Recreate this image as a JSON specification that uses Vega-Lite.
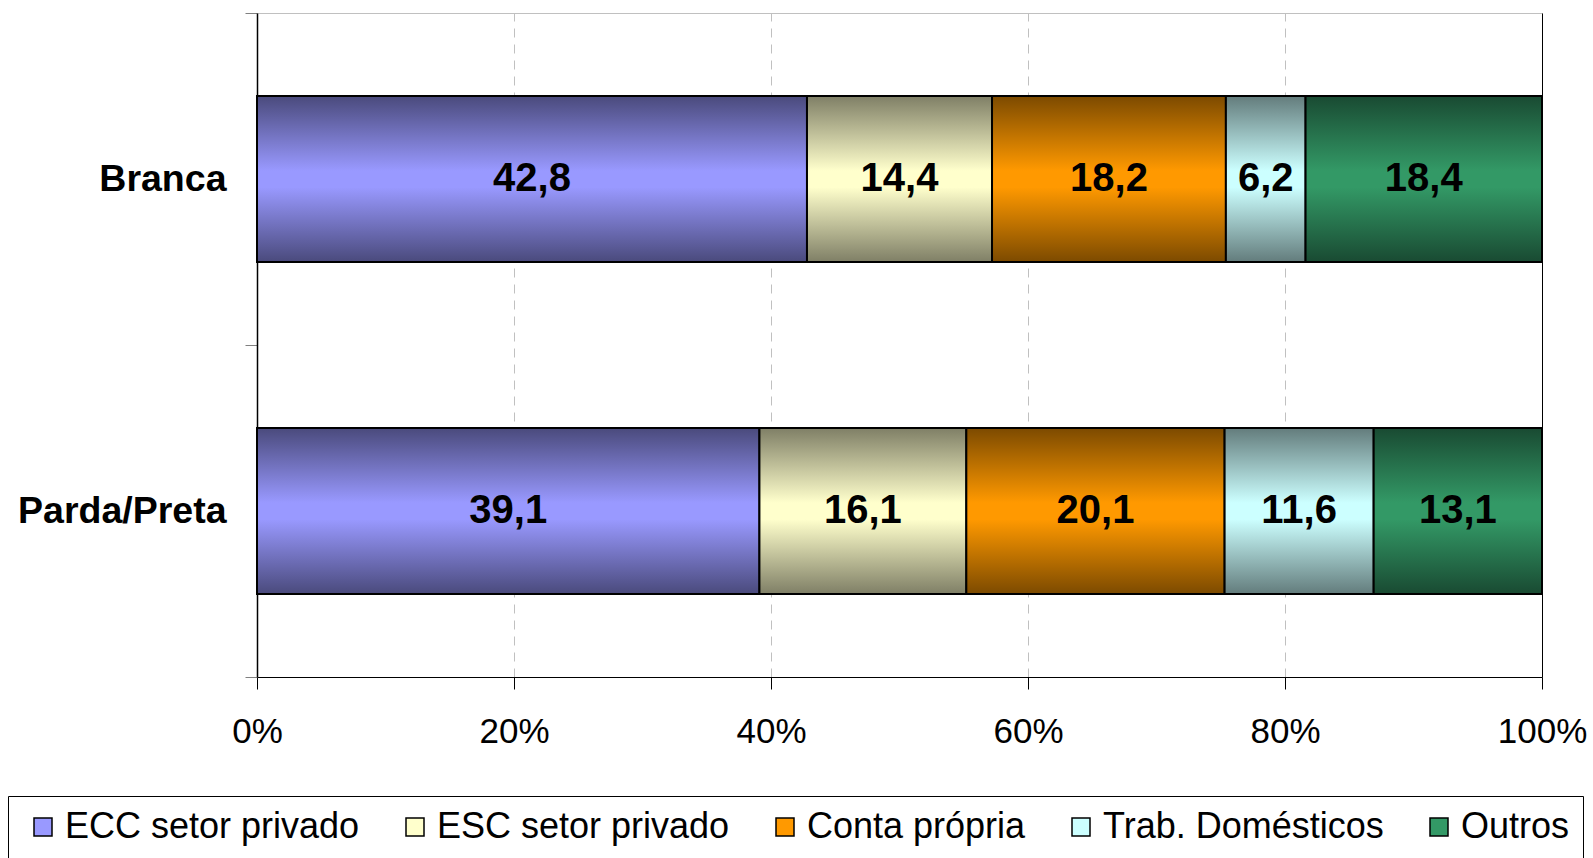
{
  "$schema": "https://vega.github.io/schema/vega-lite/v6.json",
  "width": 1285,
  "height": 664,
  "autosize": {"type": "none"},
  "padding": {"left": 257, "top": 13, "right": 51, "bottom": 181},
  "background": "white",
  "config": {
    "view": {"stroke": null},
    "font": "Liberation Sans",
    "locale": {"number": {"decimal": ",", "thousands": ".", "grouping": [3], "currency": ["R$", ""]}}
  },
  "data": {
    "values": [
      {"raca": "Branca", "cat": "ECC setor privado", "v": 42.8, "ord": 1},
      {"raca": "Branca", "cat": "ESC setor privado", "v": 14.4, "ord": 2},
      {"raca": "Branca", "cat": "Conta própria", "v": 18.2, "ord": 3},
      {"raca": "Branca", "cat": "Trab. Domésticos", "v": 6.2, "ord": 4},
      {"raca": "Branca", "cat": "Outros", "v": 18.4, "ord": 5},
      {"raca": "Parda/Preta", "cat": "ECC setor privado", "v": 39.1, "ord": 1},
      {"raca": "Parda/Preta", "cat": "ESC setor privado", "v": 16.1, "ord": 2},
      {"raca": "Parda/Preta", "cat": "Conta própria", "v": 20.1, "ord": 3},
      {"raca": "Parda/Preta", "cat": "Trab. Domésticos", "v": 11.6, "ord": 4},
      {"raca": "Parda/Preta", "cat": "Outros", "v": 13.1, "ord": 5}
    ]
  },
  "layer": [
    {
      "mark": {"type": "bar", "height": {"band": 0.5}, "stroke": "#000", "strokeWidth": 2},
      "encoding": {
        "x": {
          "field": "v", "type": "quantitative", "stack": "normalize",
          "axis": {
            "orient": "bottom", "values": [0, 0.2, 0.4, 0.6, 0.8, 1], "format": ".0%",
            "labelFontSize": 35, "labelColor": "#000", "tickSize": 12, "tickColor": "#000",
            "domainColor": "#000", "grid": true, "gridDash": [9, 7], "gridColor": "#c0c0c0",
            "labelPadding": 25, "labelFlush": false, "labelOverlap": false, "labelBound": false,
            "title": null
          }
        },
        "y": {
          "field": "raca", "type": "nominal", "scale": {"paddingInner": 0, "paddingOuter": 0},
          "axis": {
            "orient": "left", "tickBand": "extent", "tickSize": 12, "tickColor": "#808080",
            "domainColor": "#000", "domainWidth": 1.5, "labelFontSize": 37.5, "labelFontWeight": "bold",
            "labelColor": "#000", "labelPadding": 19, "title": null, "labelLimit": 400, "grid": false
          }
        },
        "color": {
          "field": "cat", "type": "nominal",
          "scale": {
            "domain": ["ECC setor privado", "ESC setor privado", "Conta própria", "Trab. Domésticos", "Outros"],
            "range": ["#9999ff", "#ffffcc", "#ff9900", "#ccffff", "#339966"]
          },
          "legend": {
            "orient": "none", "legendX": -249, "legendY": 783, "direction": "horizontal", "columns": 5,
            "title": null, "padding": 13, "fillColor": "#fff", "strokeColor": "#000",
            "labelFontSize": 36, "labelColor": "#000", "labelLimit": 600, "symbolType": "square",
            "symbolSize": 324, "symbolStrokeColor": "#000", "symbolStrokeWidth": 1.5,
            "symbolOffset": 4, "labelOffset": 4, "columnPadding": 33, "symbolOpacity": 1
          }
        },
        "order": {"field": "ord", "type": "quantitative"}
      }
    },
    {
      "mark": {"type": "bar", "height": {"band": 0.5}, "stroke": "#000", "strokeWidth": 2},
      "encoding": {
        "x": {"field": "v", "type": "quantitative", "stack": "normalize", "axis": null},
        "y": {"field": "raca", "type": "nominal", "axis": null},
        "detail": {"field": "cat"},
        "order": {"field": "ord", "type": "quantitative"},
        "fill": {
          "condition": [
            {"test": "datum.cat === 'ECC setor privado'", "value": {"gradient": "linear", "x1": 0, "y1": 0, "x2": 0, "y2": 1, "stops": [{"offset": 0, "color": "#4a4a7c"}, {"offset": 0.45, "color": "#9999ff"}, {"offset": 0.55, "color": "#9999ff"}, {"offset": 1, "color": "#4a4a7c"}]}},
            {"test": "datum.cat === 'ESC setor privado'", "value": {"gradient": "linear", "x1": 0, "y1": 0, "x2": 0, "y2": 1, "stops": [{"offset": 0, "color": "#7f7f66"}, {"offset": 0.45, "color": "#ffffcc"}, {"offset": 0.55, "color": "#ffffcc"}, {"offset": 1, "color": "#7f7f66"}]}},
            {"test": "datum.cat === 'Conta própria'", "value": {"gradient": "linear", "x1": 0, "y1": 0, "x2": 0, "y2": 1, "stops": [{"offset": 0, "color": "#7c4a00"}, {"offset": 0.45, "color": "#ff9900"}, {"offset": 0.55, "color": "#ff9900"}, {"offset": 1, "color": "#7c4a00"}]}},
            {"test": "datum.cat === 'Trab. Domésticos'", "value": {"gradient": "linear", "x1": 0, "y1": 0, "x2": 0, "y2": 1, "stops": [{"offset": 0, "color": "#637c7c"}, {"offset": 0.45, "color": "#ccffff"}, {"offset": 0.55, "color": "#ccffff"}, {"offset": 1, "color": "#637c7c"}]}}
          ],
          "value": {"gradient": "linear", "x1": 0, "y1": 0, "x2": 0, "y2": 1, "stops": [{"offset": 0, "color": "#194a32"}, {"offset": 0.45, "color": "#339966"}, {"offset": 0.55, "color": "#339966"}, {"offset": 1, "color": "#194a32"}]}
        }
      }
    },
    {
      "mark": {"type": "text", "fontSize": 40, "fontWeight": "bold", "color": "#000", "baseline": "middle", "align": "center"},
      "encoding": {
        "x": {
          "field": "v", "type": "quantitative", "stack": "normalize", "bandPosition": 0.5,
          "axis": {"orient": "top", "domainColor": "#c0c0c0", "labels": false, "ticks": false, "grid": false, "title": null}
        },
        "y": {
          "field": "raca", "type": "nominal",
          "axis": {"orient": "right", "domainColor": "#000", "labels": false, "ticks": false, "grid": false, "title": null}
        },
        "detail": {"field": "cat"},
        "order": {"field": "ord", "type": "quantitative"},
        "text": {"field": "v", "type": "quantitative", "format": ".1f"}
      }
    }
  ],
  "resolve": {"axis": {"x": "independent", "y": "independent"}}
}
